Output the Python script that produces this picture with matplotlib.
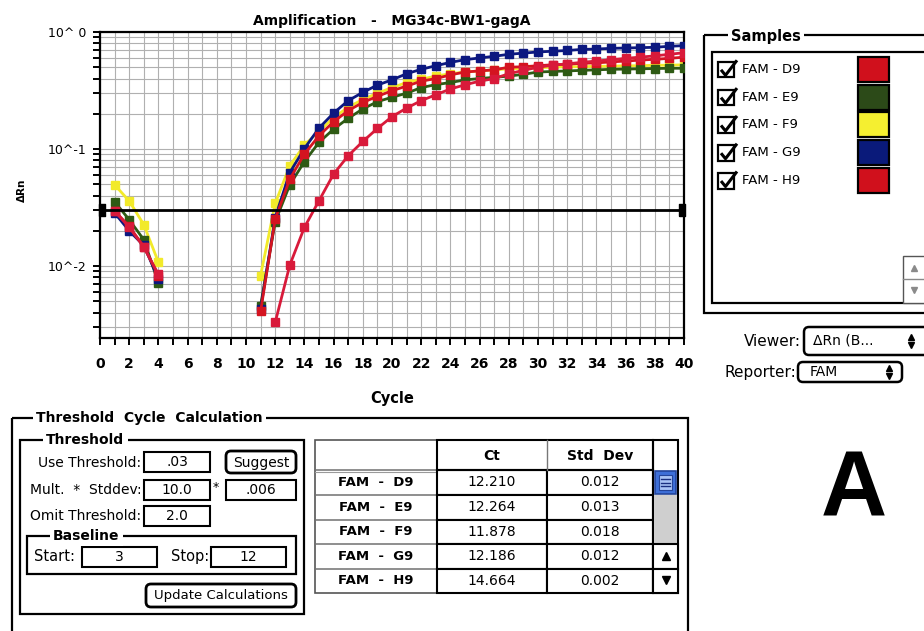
import numpy as np
import matplotlib
matplotlib.use('Agg')
import matplotlib.pyplot as plt
import matplotlib.ticker as mticker
from matplotlib.patches import Rectangle, FancyBboxPatch
from matplotlib.path import Path

plt.rcParams['font.family'] = ['DejaVu Sans']

# ---------------- data ----------------
N = None
cycles = list(range(1, 41))
fam_d9 = [0.0297, 0.0218, 0.0147, 0.0083, N, N, N, N, N, N,
          0.0041, 0.0252, 0.0554, 0.0906, 0.130, 0.171, 0.213, 0.250, 0.282, 0.315,
          0.345, 0.380, 0.400, 0.430, 0.455, 0.465, 0.475, 0.500, 0.505, 0.515,
          0.525, 0.530, 0.540, 0.545, 0.555, 0.565, 0.575, 0.585, 0.595, 0.610]
fam_e9 = [0.0355, 0.0249, 0.0168, 0.0072, N, N, N, N, N, N,
          0.0046, 0.0240, 0.0495, 0.078, 0.114, 0.148, 0.183, 0.220, 0.254, 0.277,
          0.300, 0.335, 0.355, 0.370, 0.390, 0.400, 0.410, 0.420, 0.435, 0.455,
          0.460, 0.465, 0.470, 0.475, 0.480, 0.482, 0.485, 0.487, 0.490, 0.490]
fam_f9 = [0.0495, 0.0360, 0.0226, 0.0108, N, N, N, N, N, N,
          0.0083, 0.0343, 0.072, 0.108, 0.142, 0.185, 0.228, 0.265, 0.300, 0.335,
          0.370, 0.395, 0.420, 0.440, 0.455, 0.465, 0.475, 0.485, 0.490, 0.495,
          0.500, 0.505, 0.505, 0.510, 0.510, 0.515, 0.515, 0.520, 0.520, 0.525]
fam_g9 = [0.0285, 0.0200, 0.0150, 0.0078, N, N, N, N, N, N,
          0.0043, 0.0260, 0.063, 0.101, 0.151, 0.203, 0.259, 0.305, 0.352, 0.390,
          0.440, 0.480, 0.515, 0.550, 0.580, 0.600, 0.620, 0.645, 0.660, 0.675,
          0.685, 0.695, 0.710, 0.715, 0.725, 0.730, 0.735, 0.740, 0.755, 0.765]
fam_h9 = [0.0295, 0.0215, 0.0145, 0.0085, N, N, N, N, N, N,
          N, 0.0033, 0.0102, 0.0214, 0.0362, 0.0611, 0.0877, 0.116, 0.150, 0.189,
          0.224, 0.259, 0.291, 0.326, 0.354, 0.380, 0.400, 0.440, 0.470, 0.500,
          0.520, 0.535, 0.550, 0.565, 0.580, 0.595, 0.610, 0.625, 0.645, 0.665]
threshold = 0.03

sample_names = ["FAM - D9", "FAM - E9", "FAM - F9", "FAM - G9", "FAM - H9"]
table_names = ["FAM  -  D9", "FAM  -  E9", "FAM  -  F9", "FAM  -  G9", "FAM  -  H9"]
ct_values = ["12.210", "12.264", "11.878", "12.186", "14.664"]
std_devs = ["0.012", "0.013", "0.018", "0.012", "0.002"]
line_colors = ['#d41420', '#2e5a14', '#f2ea2a', '#0c1880', '#d81a3a']
swatch_colors = ['#d0101c', '#2c4a18', '#f5ef30', '#0a1a7a', '#d0101c']
series = [fam_d9, fam_e9, fam_f9, fam_g9, fam_h9]
zorders = [5, 3, 2, 4, 6]

ytick_vals = [1e-2, 1e-1, 1.0]
ytick_labels = ['10^-2', '10^-1', '10^ 0']

use_threshold = ".03"
mult_value = "10.0"
stddev_value = ".006"
omit_threshold = "2.0"
baseline_start = "3"
baseline_stop = "12"

# ---------------- figure ----------------
W, H = 924, 631
fig = plt.figure(figsize=(W / 100, H / 100), dpi=100)
fig.patch.set_facecolor('white')

# overlay in pixel coordinates for the UI
ui = fig.add_axes([0, 0, 1, 1], zorder=0)
ui.set_xlim(0, W)
ui.set_ylim(H, 0)
ui.axis('off')

# main chart
x0, x1, yt, yb = 100, 684, 32, 338
ax = fig.add_axes([x0 / W, 1 - yb / H, (x1 - x0) / W, (yb - yt) / H], zorder=2)
for vals, c, z in zip(series, line_colors, zorders):
    ax.plot(cycles, np.array(vals, dtype=float), '-s', color=c, lw=2.0,
            ms=5.8, mec=c, zorder=z)

ax.set_yscale('log')
ax.set_xlim(0, 40)
ax.set_ylim(0.00243, 1.0)
ax.set_xticks(range(0, 41, 2))
ax.set_xticks(range(0, 41), minor=True)
ax.set_yticks(ytick_vals)
ax.set_yticklabels(ytick_labels, fontsize=9)
ax.yaxis.set_minor_locator(mticker.LogLocator(base=10, subs=np.arange(2, 10)))
ax.yaxis.set_minor_formatter(mticker.NullFormatter())
ax.tick_params(which='both', direction='out', length=5, width=1.4, color='black')
ax.tick_params(axis='x', pad=9, labelsize=10)
ax.tick_params(axis='y', pad=5)
for lbl in ax.get_xticklabels():
    lbl.set_fontweight('bold')
ax.grid(True, which='both', color='#b0b0b0', lw=0.8)
ax.set_axisbelow(True)
for s in ax.spines.values():
    s.set_linewidth(1.6)

ax.axhline(threshold, color='black', lw=2, zorder=7)
hm = Path([(-0.22, -0.5), (0.22, -0.5), (0.22, 0.5), (-0.22, 0.5), (-0.22, -0.5)])
ax.plot([0.15, 39.85], [threshold, threshold], ls='none', marker=hm, ms=9,
        color='black', clip_on=False, zorder=8)

ax.set_title('Amplification   -   MG34c-BW1-gagA', fontsize=10, fontweight='bold',
             y=1 + (32 - 25) / 306, pad=0)
ax.set_xlabel('Cycle', fontsize=10.5, fontweight='bold')
ax.xaxis.set_label_coords(0.5, -(391 - 338) / 306)
ax.set_ylabel('ΔRn', fontsize=7.5, fontweight='bold')
ax.yaxis.set_label_coords(-(100 - 27) / 584, (338 - 190) / 306)


# ---------------- UI helpers ----------------
def rect(xa, ya, xb, yb, lw=1.5, fc='white', ec='black', z=2):
    ui.add_patch(Rectangle((xa, ya), xb - xa, yb - ya, lw=lw, fc=fc, ec=ec, zorder=z))


def rrect(xa, ya, xb, yb, lw=1.8, r=5, fc='white', z=2):
    ui.add_patch(FancyBboxPatch((xa, ya), xb - xa, yb - ya,
                                boxstyle=f'round,pad=0,rounding_size={r}',
                                lw=lw, fc=fc, ec='black', zorder=z))


def frame_title(x, y, s, size=10):
    ui.text(x, y, s, fontsize=size, fontweight='bold', ha='left', va='center',
            bbox=dict(fc='white', ec='none', pad=2.5), zorder=6)


def txt(x, y, s, size=10, ha='left', weight='normal'):
    ui.text(x, y, s, fontsize=size, ha=ha, va='center', fontweight=weight, zorder=7)


def updown(x, y, gap=3.6, ms=4, color='black'):
    ui.plot([x], [y - gap], marker='^', ms=ms, color=color, zorder=7)
    ui.plot([x], [y + gap], marker='v', ms=ms, color=color, zorder=7)


# ---------------- Samples panel ----------------
rect(704, 35, 940, 313, lw=1.6, fc='none')
frame_title(731, 36, 'Samples', 10.5)
rect(712, 52, 940, 303, lw=1.6)
row_y = [69.3, 97.1, 124.9, 152.7, 180.5]
for name, col, cy in zip(sample_names, swatch_colors, row_y):
    rect(718, cy - 7.5, 734, cy + 8, lw=1.6)
    ui.plot([721, 725.5, 737], [cy + 0.5, cy + 6, cy - 9], color='black', lw=2.2,
            solid_capstyle='butt', zorder=8)
    txt(742, cy, name, 9.5)
    rect(858, cy - 12.5, 889, cy + 12.5, lw=1.6, fc=col)
rect(903, 256, 940, 303, lw=1.0, fc='white', ec='#555555', z=3)
ui.plot([903, 924], [279, 279], color='#888888', lw=1, zorder=4)
ui.plot([914], [268], marker='^', ms=5, color='#8a8a8a', zorder=5)
ui.plot([914], [290], marker='v', ms=5, color='#8a8a8a', zorder=5)

# Viewer / Reporter
txt(801, 341, 'Viewer:', 11, ha='right')
rrect(804, 327, 940, 355)
txt(813, 341, 'ΔRn (B...', 10)
updown(911, 341)
txt(796, 372, 'Reporter:', 11, ha='right')
rrect(798, 362, 902, 382)
txt(810, 372, 'FAM', 10)
updown(889, 372)

# ---------------- Threshold Cycle Calculation ----------------
rect(12, 418, 688, 660, lw=1.6, fc='none')
frame_title(36, 418, 'Threshold  Cycle  Calculation', 10)
rect(19.5, 440, 304, 614, lw=1.6, fc='none')
frame_title(46, 440, 'Threshold', 10)

txt(141.5, 463, 'Use Threshold:', 10, ha='right')
rect(144, 452, 210, 472)
txt(177, 462.5, use_threshold, 10, ha='center')
rrect(226, 451, 296, 473, lw=2)
txt(261, 462.5, 'Suggest', 10, ha='center')

txt(141.5, 489.5, 'Mult.  *  Stddev:', 10, ha='right')
rect(144, 480, 210, 499.5)
txt(177, 490, mult_value, 10, ha='center')
txt(216, 487, '*', 9, ha='center')
rect(226, 480, 296, 499.5)
txt(261, 490, stddev_value, 10, ha='center')

txt(141.5, 515.5, 'Omit Threshold:', 10, ha='right')
rect(144, 506, 210, 525.5)
txt(177, 516, omit_threshold, 10, ha='center')

rect(27, 536, 296, 574, lw=1.6, fc='none')
frame_title(53, 536, 'Baseline', 10)
txt(34, 556.5, 'Start:', 10.5)
rect(82, 547, 157, 567)
txt(119.5, 557, baseline_start, 10, ha='center')
txt(171, 556.5, 'Stop:', 10.5)
rect(211, 547, 286, 567)
txt(248.5, 557, baseline_stop, 10, ha='center')

rrect(146, 584, 296, 607, lw=2)
txt(221, 595.5, 'Update Calculations', 9.5, ha='center')

# ---------------- Ct table ----------------
cols = [315, 437, 547, 653, 678]
rows = [440, 470, 495, 519.5, 544, 569, 593]
rect(315, 440, 678, 593, lw=1.2, ec='#555555', fc='white')
for y in rows[1:-1]:
    ui.plot([315, 437], [y, y], color='#707070', lw=1.1, zorder=3)
ui.plot([315, 437], [472, 472], color='#9a9a9a', lw=0.8, zorder=3)
for i in range(5):
    rect(437, rows[i + 1], 547, rows[i + 2], lw=1.5, z=3)
    rect(547, rows[i + 1], 653, rows[i + 2], lw=1.5, z=3)
rect(437, 440, 653, 470, lw=1.5, fc='none', z=3)
ui.plot([547, 547], [440, 470], color='#777777', lw=1, zorder=3)
txt(492, 455.5, 'Ct', 10, ha='center', weight='bold')
txt(600, 455.5, 'Std  Dev', 10, ha='center', weight='bold')
for i in range(5):
    cy = (rows[i + 1] + rows[i + 2]) / 2
    txt(376, cy, table_names[i], 9.5, ha='center', weight='bold')
    txt(492, cy, ct_values[i], 10, ha='center')
    txt(600, cy, std_devs[i], 10, ha='center')
rect(653, 440, 678, 593, lw=1.5, fc='none', z=3)
rect(655, 471, 676, 494, lw=1.2, fc='#3d6fd8', ec='#23449a', z=4)
rect(659, 475, 672, 490, lw=0.8, fc='#a9c3f5', ec='#23449a', z=5)
for yy in [479, 482.5, 486]:
    ui.plot([661, 670], [yy, yy], color='#1a2f80', lw=1, zorder=6)
rect(654, 495, 677, 544, lw=0, fc='#cfcfcf', ec='none', z=4)
rect(653, 544, 678, 569, lw=1.5, z=4)
rect(653, 569, 678, 593, lw=1.5, z=4)
ui.plot([665.5], [556], marker='^', ms=6, color='black', zorder=6)
ui.plot([665.5], [580], marker='v', ms=6, color='black', zorder=6)

# big panel letter
ui.text(854, 492, 'A', fontsize=66, fontweight='bold', ha='center', va='center',
        family=['Liberation Sans', 'DejaVu Sans'], zorder=7)

fig.savefig('out.png', dpi=100, facecolor='white')
